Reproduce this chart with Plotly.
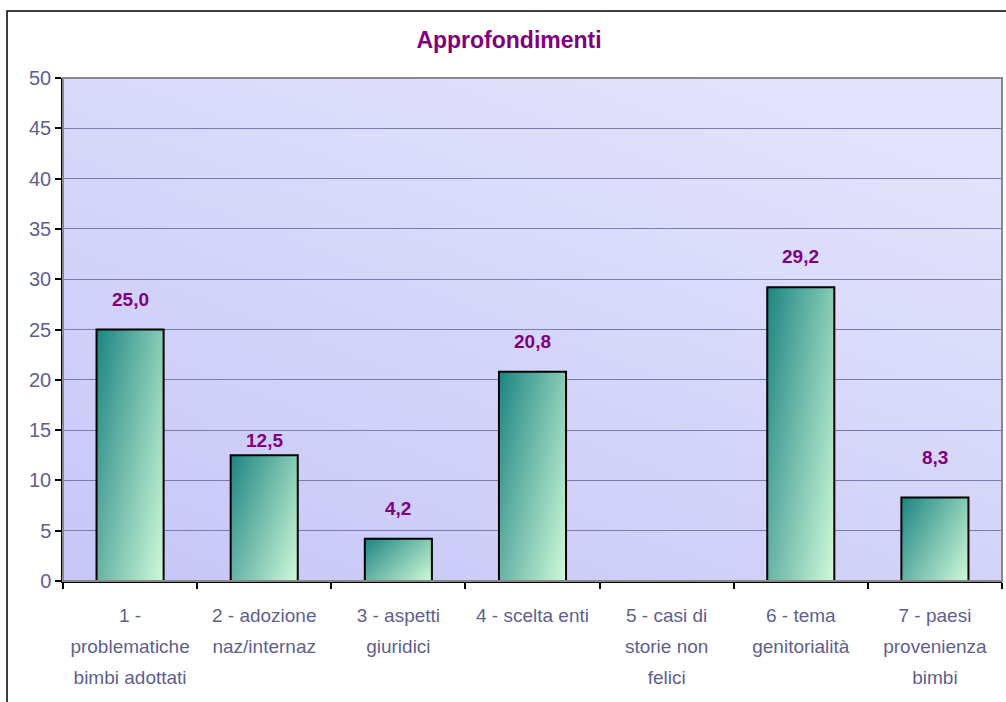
import base64
import plotly.graph_objects as go

# dati del grafico
categorie = [
    ["1 -", "problematiche", "bimbi adottati"],
    ["2 - adozione", "naz/internaz"],
    ["3 - aspetti", "giuridici"],
    ["4 - scelta enti"],
    ["5 - casi di", "storie non", "felici"],
    ["6 - tema", "genitorialità"],
    ["7 - paesi", "provenienza", "bimbi"],
]
valori = [25.0, 12.5, 4.2, 20.8, 0.0, 29.2, 8.3]
y_ticks = [0, 5, 10, 15, 20, 25, 30, 35, 40, 45, 50]

# scostamento verticale delle etichette (px), come nell'originale
spost_etichette = [18, 2, 18, 18, 0, 18, 28]

VIOLA = "#800080"
GRIGIO_TESTO = "#5f5f8f"
FONT = "Liberation Sans, Arial, sans-serif"
larghezza = 0.5

# interlinea più ampia: font base grande, testo nello span più piccolo
ticktext = ["<br>".join(f"<span style='font-size:19px'>{r}</span>" for r in c)
            for c in categorie]

fig = go.Figure()

for i, v in enumerate(valori):
    if v <= 0:
        continue
    xs = [i - larghezza / 2, i - larghezza / 2, i + larghezza / 2, i + larghezza / 2, i - larghezza / 2]
    ys = [0, v, v, 0, 0]
    # sfumatura verticale di base
    fig.add_trace(go.Scatter(
        x=xs, y=ys, mode="lines", fill="toself",
        line=dict(width=0, color="rgba(0,0,0,0)"),
        fillgradient=dict(type="vertical",
                          colorscale=[[0, "#d2fadb"], [1, "#2f928c"]]),
        hoverinfo="skip", showlegend=False))
    # sfumatura orizzontale sovrapposta -> effetto diagonale
    fig.add_trace(go.Scatter(
        x=xs, y=ys, mode="lines", fill="toself",
        line=dict(width=2, color="black"),
        fillgradient=dict(type="horizontal",
                          colorscale=[[0, "rgba(15,120,122,0.55)"],
                                      [1, "rgba(205,250,215,0.55)"]]),
        hovertemplate="%{y}<extra></extra>", showlegend=False))

for i, v in enumerate(valori):
    if v <= 0:
        continue
    fig.add_annotation(
        x=i, y=v, text=f"{v:.1f}".replace(".", ","),
        showarrow=False, yanchor="bottom", yshift=spost_etichette[i],
        font=dict(family=FONT, size=19, color=VIOLA, weight="bold"))

# sfondo sfumato dell'area del grafico
svg = ('<svg xmlns="http://www.w3.org/2000/svg" width="100" height="100" preserveAspectRatio="none">'
       '<defs><linearGradient id="g" x1="0" y1="1" x2="0.7" y2="0">'
       '<stop offset="0" stop-color="#c6c6f7"/><stop offset="1" stop-color="#e2e2fc"/>'
       '</linearGradient></defs><rect width="100" height="100" fill="url(#g)"/></svg>')
src = "data:image/svg+xml;base64," + base64.b64encode(svg.encode()).decode()
fig.add_layout_image(dict(source=src, xref="paper", yref="paper", x=0, y=1,
                          sizex=1, sizey=1, sizing="stretch", layer="below",
                          xanchor="left", yanchor="top"))

# bordo dell'area e cornice esterna
fig.add_shape(type="rect", xref="paper", yref="paper", x0=0, y0=0, x1=1, y1=1,
              line=dict(color="#888888", width=2), layer="above")
fig.add_shape(type="rect", xref="paper", yref="paper",
              x0=-0.0596, y0=-0.5, x1=1.05, y1=1.1332,
              line=dict(color="black", width=1.5))

fig.update_layout(
    width=1006, height=702,
    margin=dict(l=63, r=4, t=78, b=121),
    paper_bgcolor="white",
    plot_bgcolor="rgba(0,0,0,0)",
    title=dict(text="<b>Approfondimenti</b>", x=0.506, y=0.943,
               xanchor="center", yanchor="middle",
               font=dict(family=FONT, size=23, color=VIOLA)),
    showlegend=False,
    font=dict(family=FONT, size=18, color=GRIGIO_TESTO),
)

fig.update_xaxes(
    range=[-0.5, 6.5], tickmode="array",
    tickvals=list(range(len(categorie))), ticktext=ticktext,
    ticks="", showgrid=False, zeroline=False,
    showline=True, linecolor="black", linewidth=1.5,
    tickfont=dict(family=FONT, size=24, color=GRIGIO_TESTO),
    ticklabelstandoff=10,
    minor=dict(tick0=-0.5, dtick=1, ticks="outside", ticklen=6,
               tickcolor="black", tickwidth=1.5, showgrid=False),
)
fig.update_yaxes(
    range=[0, 50], tickmode="array", tickvals=y_ticks,
    ticks="outside", ticklen=6, tickcolor="black", tickwidth=1.5,
    showgrid=True, gridcolor="#7c7cac", gridwidth=1,
    zeroline=False, showline=True, linecolor="black", linewidth=1.5,
    tickfont=dict(family=FONT, size=20, color=GRIGIO_TESTO),
)

fig.write_html("out.html", config={"displayModeBar": False},
               post_script="document.body.style.margin='0';")
